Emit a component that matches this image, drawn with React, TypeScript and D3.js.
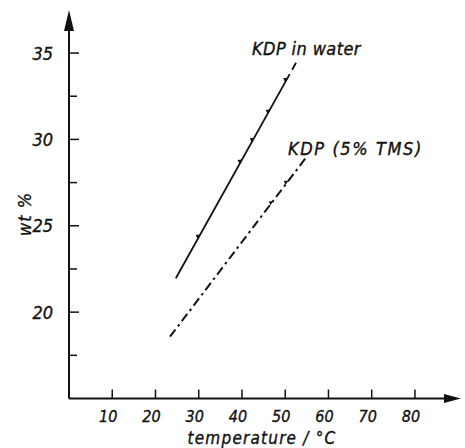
import React from "react";
import * as d3 from "d3";

const xTicks = [10, 20, 30, 40, 50, 60, 70, 80];
const yTicks = [20, 25, 30, 35];
const yMinorTicks = [17.5, 22.5, 27.5, 32.5];

// KDP in water: fitted line ends and measured points
const waterLineT = [24.7, 52.5];
const waterLineW = [21.96, 34.44];
const waterPtsT = [30.0, 39.7, 42.5, 46.2, 50.25];
const waterPtsW = [24.37, 28.71, 29.97, 31.6, 33.44];

// KDP (5% TMS)
const tmsLineT = [23.36, 54.97];
const tmsLineW = [18.58, 29.0];
const tmsPtsT = [46.9, 50.35];
const tmsPtsW = [26.3, 27.48];

const labels = { water: "KDP in water", tms: "KDP (5% TMS)", x: "temperature / °C", y: "wt %" };

const W = 465;
const H = 448;
const FONT = "'DejaVu Sans Condensed', 'Liberation Sans Narrow', 'DejaVu Sans', sans-serif";

export default function App() {
  const x = d3.scaleLinear().domain([0, 90]).range([69, 458.2]);
  const y = d3.scaleLinear().domain([15, 37]).range([398.5, 18.5]);
  const x0 = x(0);
  const y0 = y(15);
  const line = d3.line<[number, number]>().x((d) => x(d[0])).y((d) => y(d[1]));

  const wPts: [number, number][] = waterLineT.map((t, i) => [t, waterLineW[i]]);
  const tPts: [number, number][] = tmsLineT.map((t, i) => [t, tmsLineW[i]]);
  const wLen = Math.hypot(x(waterLineT[1]) - x(waterLineT[0]), y(waterLineW[1]) - y(waterLineW[0]));

  const marker = (t: number, w: number, lt: number[], lw: number[], key: string) => {
    const dx = x(lt[1]) - x(lt[0]);
    const dy = y(lw[1]) - y(lw[0]);
    const len = Math.hypot(dx, dy);
    const nx = -dy / len;
    const ny = dx / len;
    const px = x(t);
    const py = y(w);
    const ux = dx / len;
    const uy = dy / len;
    const p = [
      [px - ux * 2.5, py - uy * 2.5],
      [px + ux * 2.5, py + uy * 2.5],
      [px - nx * 3.5, py - ny * 3.5],
    ];
    return <polygon key={key} points={p.map((q) => q.join(",")).join(" ")} fill="#111" />;
  };

  const textStyle = {
    fontFamily: FONT,
    fontStyle: "italic" as const,
    fill: "#111",
    stroke: "#111",
    strokeWidth: 0.35,
  };

  return (
    <svg width={W} height={H} style={{ position: "absolute", left: 0, top: 0, background: "#fff" }}>
      {/* axes */}
      <line x1={x0} y1={y0} x2={x0} y2={28} stroke="#111" strokeWidth={2} />
      <polygon points={`${x0},10 ${x0 - 5},31 ${x0 + 5},31`} fill="#111" />
      <line x1={x0} y1={y0} x2={446} y2={y0} stroke="#111" strokeWidth={2} />
      <polygon points={`461,${y0} 444,${y0 - 4.5} 444,${y0 + 4.5}`} fill="#111" />

      {yTicks.map((v) => (
        <g key={"y" + v}>
          <line x1={x0} x2={x0 + 10} y1={y(v)} y2={y(v)} stroke="#111" strokeWidth={1.5} />
          <text x={53} y={y(v)} dy="0.36em" textAnchor="end" fontSize={18} {...textStyle}>
            {v}
          </text>
        </g>
      ))}
      {yMinorTicks.map((v) => (
        <line key={"ym" + v} x1={x0} x2={x0 + 8} y1={y(v)} y2={y(v)} stroke="#111" strokeWidth={1.5} />
      ))}
      {xTicks.map((v) => (
        <g key={"x" + v}>
          <line x1={x(v)} x2={x(v)} y1={y0} y2={y0 - 9} stroke="#111" strokeWidth={1.5} />
          <text x={x(v) - 4} y={421.5} textAnchor="middle" fontSize={16} {...textStyle}>
            {v}
          </text>
        </g>
      ))}

      <text x={262} y={444} textAnchor="middle" fontSize={17} letterSpacing={1.2} {...textStyle}>
        {labels.x}
      </text>
      <text transform={`translate(31,${214}) rotate(-90)`} textAnchor="middle" fontSize={18} letterSpacing={1} {...textStyle}>
        {labels.y}
      </text>

      {/* KDP in water */}
      <path
        d={line(wPts) || ""}
        fill="none"
        stroke="#111"
        strokeWidth={1.8}
        strokeDasharray={`${wLen - 13} 5 8`}
      />
      {waterPtsT.map((t, i) => marker(t, waterPtsW[i], waterLineT, waterLineW, "w" + i))}

      {/* KDP (5% TMS) */}
      <path d={line(tPts) || ""} fill="none" stroke="#111" strokeWidth={2} strokeDasharray="9 4 2.5 4" />
      {tmsPtsT.map((t, i) => marker(t, tmsPtsW[i], tmsLineT, tmsLineW, "t" + i))}

      <text x={252} y={55} fontSize={18} letterSpacing={0.4} {...textStyle}>
        {labels.water}
      </text>
      <text x={288} y={155} fontSize={18} letterSpacing={1.6} {...textStyle}>
        {labels.tms}
      </text>
    </svg>
  );
}
